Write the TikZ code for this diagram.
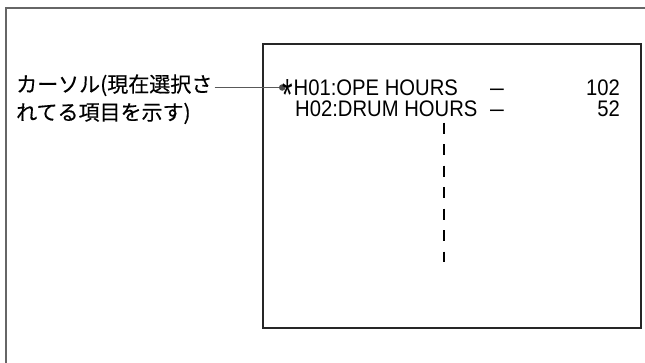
\documentclass[tikz,border=0pt]{standalone}
\usepackage{fontspec}
\newfontfamily\jpfont[FakeBold=0.4]{Noto Sans CJK JP}
\newfontfamily\lcdfont{Liberation Sans}
\begin{document}
\begin{tikzpicture}[x=1pt,y=-1pt,
  frame/.style={draw=black!60,line width=1.4pt},
  screen/.style={draw=black!85,line width=1.3pt},
  jp/.style={font=\jpfont\fontsize{21}{24}\selectfont,inner sep=0pt,anchor=base west},
  lcd/.style={font=\lcdfont\fontsize{22.5}{24}\selectfont,inner sep=0pt,text height=16pt,text depth=0pt},
  leader/.style={draw=black!65,line width=1.4pt},
  dotmark/.style={circle,fill=black!70,inner sep=0pt,minimum size=6.5pt},
  dashline/.style={draw=black,line width=1.8pt,dash pattern=on 11pt off 10.5pt}]
\useasboundingbox (0,0) rectangle (645,362);
\fill[white] (0,0) rectangle (645,362);
% outer frame (open at right and bottom)
\draw[frame] (6,363) -- (6,8) -- (646,8);
% screen box
\draw[screen] (263,44) rectangle (641,328);
% label
\node[jp] (lab1) at (16,92) {カーソル(現在選択さ};
\node[jp] (lab2) at (16,120) {れてる項目を示す)};
% screen text
\node[lcd,anchor=base west] (r1) at (293.5,95.3) {\scalebox{0.9}[1]{H01:OPE HOURS}};
\node[lcd,anchor=base west] (r2) at (295,116) {\scalebox{0.9}[1]{H02:DRUM HOURS}};
\node[lcd,anchor=base] (d1) at (497,95.3) {\scalebox{1.1}[1]{–}};
\node[lcd,anchor=base] (d2) at (497,116) {\scalebox{1.1}[1]{–}};
\node[lcd,anchor=base east] (n1) at (620,95.3) {\scalebox{0.9}[1]{102}};
\node[lcd,anchor=base east] (n2) at (620,116) {\scalebox{0.9}[1]{52}};
% cursor leader
\node[dotmark] (dot) at (282.2,87.5) {};
\node[font=\lcdfont\fontsize{22.5}{24}\selectfont,inner sep=0pt,anchor=base] (ast) at (288,110.5) {\scalebox{1.2}[2]{*}};
\draw[leader] (lab1.east |- dot) ++(2,0) coordinate (ls) -- (dot);
% continuation dashes
\coordinate (dtop) at (443.7,122.7);
\coordinate (dbot) at (443.7,262);
\draw[dashline] (dtop) -- (dbot);
\end{tikzpicture}
\end{document}
